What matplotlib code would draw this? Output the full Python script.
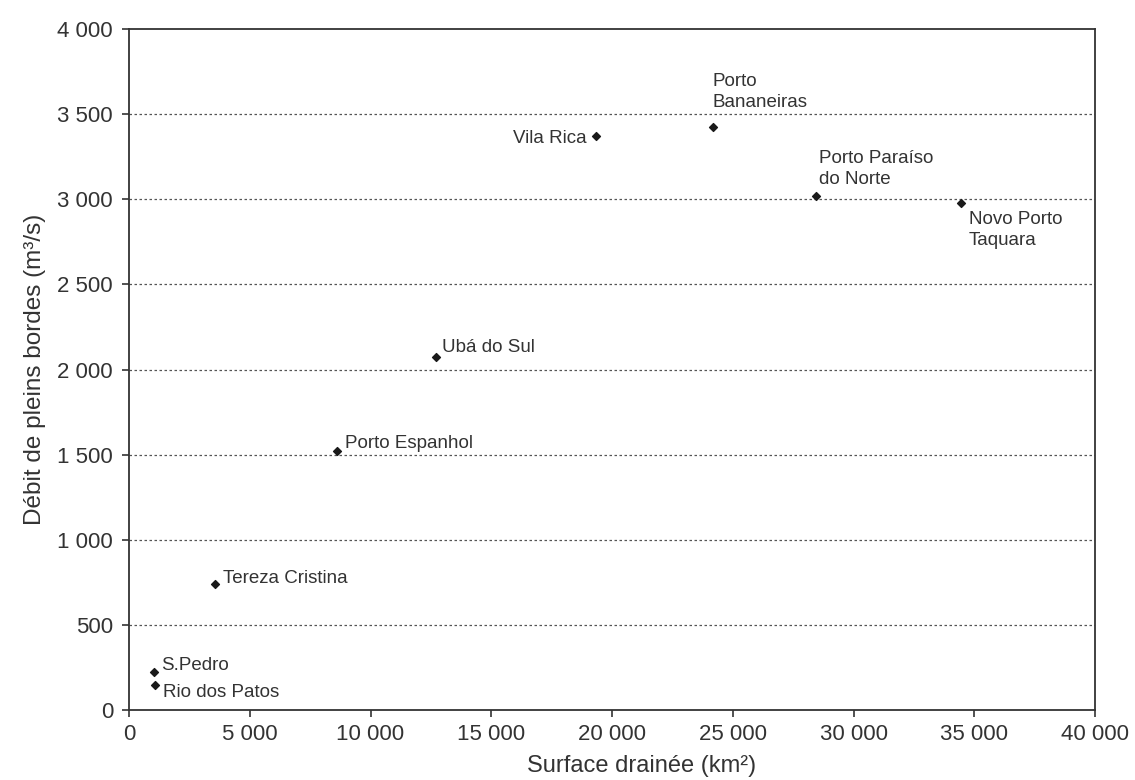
import matplotlib
matplotlib.use("Agg")
import matplotlib.pyplot as plt
from matplotlib.ticker import FuncFormatter

plt.rcParams['font.family'] = ['Liberation Sans', 'DejaVu Sans']

stations = ["S.Pedro", "Rio dos Patos", "Tereza Cristina", "Porto Espanhol",
            "Ubá do Sul", "Vila Rica", "Porto\nBananeiras",
            "Porto Paraíso\ndo Norte", "Novo Porto\nTaquara"]
surface = [1030, 1080, 3560, 8610, 12710, 19340, 24180, 28450, 34450]
debit = [223, 147, 740, 1521, 2073, 3371, 3424, 3019, 2978]

# label offsets (pixels) and alignment
offsets = [(7, 2, 'left', 'baseline'), (8, -12, 'left', 'baseline'),
           (8, 1, 'left', 'baseline'), (8, 3, 'left', 'baseline'),
           (6, 5, 'left', 'baseline'), (-9, -7, 'right', 'baseline'),
           (0, 35, 'left', 'center'), (3, 27, 'left', 'center'),
           (8, -27, 'left', 'center')]

fig = plt.figure(figsize=(11.35, 7.8), dpi=100)
ax = fig.add_axes([0.1137, 0.0897, 0.8511, 0.8731])

ax.scatter(surface, debit, marker='D', s=16, color='#1a1a1a', zorder=3)
for name, x, y, (dx, dy, ha, va) in zip(stations, surface, debit, offsets):
    ax.annotate(name, (x, y), xytext=(dx, dy), textcoords='offset pixels',
                ha=ha, va=va, fontsize=13.5, color='#333333', linespacing=1.3)

ax.set_xlim(0, 40000)
ax.set_ylim(0, 4000)
ax.set_xticks(range(0, 40001, 5000))
ax.set_yticks(range(0, 4001, 500))
fmt = FuncFormatter(lambda v, p: f"{int(v):,}".replace(",", " "))
ax.xaxis.set_major_formatter(fmt)
ax.yaxis.set_major_formatter(fmt)
for yv in range(500, 4000, 500):
    ax.axhline(yv, color='#555555', linestyle=(0, (2, 2)), linewidth=0.9, zorder=1)

for s in ax.spines.values():
    s.set_linewidth(1.3)
    s.set_color('#333333')
ax.tick_params(axis='both', direction='out', length=5, width=1.2, colors='#333333',
               labelsize=16, labelcolor='#333333')
ax.tick_params(axis='y', pad=6.5)
ax.tick_params(axis='x', pad=5)

ax.set_xlabel("Surface drainée (km²)", fontsize=17, color='#333333')
ax.set_ylabel("Débit de pleins bordes (m³/s)", fontsize=17.5, color='#333333')
ax.xaxis.set_label_coords(0.531, -0.066)
ax.yaxis.set_label_coords(-0.086, 0.5)

fig.savefig("out.png", dpi=100, facecolor='white')
